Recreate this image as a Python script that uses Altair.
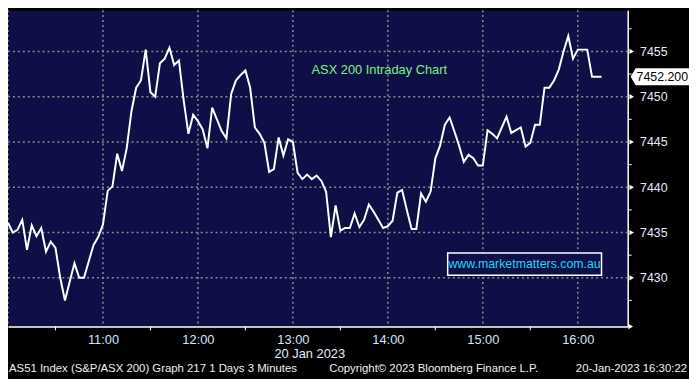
import altair as alt
import pandas as pd

# ---------------- data ----------------
start_hour = 10.0          # first bar 10:00
interval_minutes = 3       # 3-minute bars
prices = [7436.1, 7435.0, 7435.3, 7436.4, 7433.1, 7435.8, 7434.6, 7435.5, 7432.9, 7434.0,
          7433.3, 7430.0, 7427.5, 7429.6, 7431.6, 7430.0, 7430.0, 7431.8, 7433.6, 7434.5,
          7435.9, 7439.6, 7440.1, 7443.7, 7441.8, 7444.3, 7448.4, 7451.0, 7451.8, 7455.2,
          7450.5, 7450.0, 7453.7, 7454.2, 7455.4, 7453.5, 7454.0, 7449.6, 7445.9, 7448.0,
          7447.3, 7446.4, 7444.3, 7448.8, 7447.5, 7446.2, 7445.4, 7450.3, 7451.8, 7452.4,
          7452.9, 7451.0, 7446.6, 7445.9, 7444.9, 7441.7, 7442.0, 7445.5, 7443.5, 7445.3,
          7445.0, 7441.6, 7440.9, 7441.4, 7440.9, 7441.3, 7440.7, 7439.5, 7434.5, 7438.0,
          7435.2, 7435.5, 7435.5, 7437.1, 7435.6, 7436.4, 7438.1, 7437.3, 7436.4, 7435.5,
          7435.7, 7436.3, 7439.4, 7439.7, 7437.5, 7435.4, 7435.4, 7439.3, 7438.4, 7439.5,
          7443.2, 7444.6, 7446.9, 7447.7, 7446.2, 7444.6, 7442.8, 7443.6, 7443.2, 7442.4,
          7442.4, 7446.3, 7445.9, 7445.4, 7446.6, 7447.8, 7446.0, 7446.3, 7446.6, 7444.5,
          7444.9, 7446.9, 7446.9, 7451.0, 7451.0, 7451.8, 7453.0, 7455.0, 7456.7, 7454.2,
          7455.2, 7455.2, 7455.2, 7452.2, 7452.2, 7452.2]
hours = [start_hour + i * interval_minutes / 60 for i in range(len(prices))]

hour_ticks = [10, 11, 12, 13, 14, 15, 16]
half_hour_ticks = [10.5, 11.5, 12.5, 13.5, 14.5, 15.5]
price_ticks = [7430, 7435, 7440, 7445, 7450, 7455]
price_minor_ticks = [7427.5, 7432.5, 7437.5, 7442.5, 7447.5, 7452.5, 7457.5]
last_price = [prices[-1]]
last_label = ["7452.200"]
x_domain = [10.0, 16.526]
y_domain = [7424.63, 7459.56]

title_text = ["ASX 200 Intraday Chart"]
title_pos = [13.91, 7453.0]
web_text = ["www.marketmatters.com.au"]
web_box = [14.63, 16.25, 7430.29, 7432.75]
date_text = ["20 Jan 2023"]
date_pos_hour = [13.55]
footer_left = "AS51 Index (S&P/ASX 200) Graph 217 1 Days 3 Minutes"
footer_mid = "Copyright\u00a9 2023 Bloomberg Finance L.P."
footer_right = "20-Jan-2023 16:30:22"

# ---------------- layout / style ----------------
W, H = 627, 320
NAVY = "#0f0f47"
GRID = "#8c8c8c"
FONT = "Liberation Sans"

xs = alt.Scale(domain=x_domain, nice=False, zero=False)
ys = alt.Scale(domain=y_domain, nice=False, zero=False)

x_axis = alt.Axis(
    values=hour_ticks, title=None,
    labelExpr="datum.value == 10 ? '' : datum.value + ':00'",
    domainColor="white", domainWidth=1.5, ticks=False, grid=False,
    labelColor="#d6e2ff", labelFont=FONT, labelFontSize=13, labelPadding=7,
    labelFlush=False, labelOverlap=False)
y_axis = alt.Axis(
    orient="right", values=price_ticks, title=None, format="d",
    domainColor="white", domainWidth=1.5, ticks=False, grid=False,
    labelColor="#e6e6ff", labelFont=FONT, labelFontSize=12.5, labelPadding=12,
    labelFlush=False, labelOverlap=False)


def X(field):
    return alt.X(field, scale=xs, axis=x_axis)


def Y(field):
    return alt.Y(field, scale=ys, axis=y_axis)


df = pd.DataFrame({"hour": hours, "price": prices})

vgrid = alt.Chart(pd.DataFrame({"hour": hour_ticks})).mark_rule(
    color=GRID, strokeWidth=1.5, strokeDash=[2, 3]
).encode(x=X("hour:Q"))
hgrid = alt.Chart(pd.DataFrame({"price": price_ticks})).mark_rule(
    color=GRID, strokeWidth=1.5, strokeDash=[2, 3]
).encode(y=Y("price:Q"))

line = alt.Chart(df).mark_line(color="white", strokeWidth=2).encode(
    x=X("hour:Q"), y=Y("price:Q"))

major_tri = alt.Chart(pd.DataFrame({"price": price_ticks})).mark_point(
    shape="triangle-right", filled=True, color="white", size=28, opacity=1
).encode(x=alt.value(W + 4), y=Y("price:Q"))

minor_ticks = alt.Chart(pd.DataFrame({"price": price_minor_ticks})).mark_rule(
    color="white", strokeWidth=1
).encode(x=alt.value(W), x2=alt.value(W + 4), y=Y("price:Q"))

half_ticks = alt.Chart(pd.DataFrame({"hour": half_hour_ticks})).mark_rule(
    color="white", strokeWidth=1
).encode(x=X("hour:Q"), y=alt.value(H), y2=alt.value(H + 4))

x_arrow = alt.Chart(pd.DataFrame({"a": [0]})).mark_point(
    shape="triangle-right", filled=True, color="white", size=30, opacity=1
).encode(x=alt.value(W + 3), y=alt.value(H))

last_df = pd.DataFrame({"price": last_price, "t": last_label})
last_box = alt.Chart(last_df).mark_point(
    shape="M -1 0 L -0.83 -0.29 L 1 -0.29 L 1 0.29 L -0.83 0.29 Z",
    filled=True, fill="white", size=3481, opacity=1, strokeWidth=0
).encode(x=alt.value(W + 32.5), y=Y("price:Q"))
last_txt = alt.Chart(last_df).mark_text(
    align="left", baseline="middle", color="black", font=FONT, fontSize=12.5
).encode(x=alt.value(W + 9), y=Y("price:Q"), text="t:N")

title = alt.Chart(pd.DataFrame({"hour": [title_pos[0]], "price": [title_pos[1]], "t": title_text})).mark_text(
    align="center", baseline="middle", color="#7cf07c", font=FONT, fontSize=13
).encode(x=X("hour:Q"), y=Y("price:Q"), text="t:N")

web_df = pd.DataFrame({"hour": [web_box[0]], "hour2": [web_box[1]],
                       "price": [web_box[2]], "price2": [web_box[3]],
                       "t": web_text})
web_rect = alt.Chart(web_df).mark_rect(fill=NAVY, stroke="white", strokeWidth=1.5).encode(
    x=X("hour:Q"), x2="hour2:Q", y=Y("price:Q"), y2="price2:Q")
web_txt_df = pd.DataFrame({"hour": [(web_box[0] + web_box[1]) / 2],
                           "price": [(web_box[2] + web_box[3]) / 2], "t": web_text})
web_txt = alt.Chart(web_txt_df).mark_text(
    align="center", baseline="middle", color="#1ed6f0", font=FONT, fontSize=12.5
).encode(x=X("hour:Q"), y=Y("price:Q"), text="t:N")

date_lbl = alt.Chart(pd.DataFrame({"hour": date_pos_hour, "t": date_text})).mark_text(
    align="right", baseline="middle", color="#e8eeff", font=FONT, fontSize=13
).encode(x=X("hour:Q"), y=alt.value(H + 28), text="t:N")

foot_l = alt.Chart(pd.DataFrame({"t": [footer_left]})).mark_text(
    align="left", baseline="middle", color="#f0f0f0", font=FONT, fontSize=11.5
).encode(x=alt.value(1), y=alt.value(H + 43), text="t:N")
foot_m = alt.Chart(pd.DataFrame({"t": [footer_mid]})).mark_text(
    align="left", baseline="middle", color="#f0f0f0", font=FONT, fontSize=11.5
).encode(x=alt.value(325), y=alt.value(H + 43), text="t:N")
foot_r = alt.Chart(pd.DataFrame({"t": [footer_right]})).mark_text(
    align="right", baseline="middle", color="#f0f0f0", font=FONT, fontSize=11.5
).encode(x=alt.value(W + 60), y=alt.value(H + 43), text="t:N")

chart = alt.layer(
    vgrid, hgrid, line, web_rect, web_txt, title, major_tri, minor_ticks, half_ticks,
    x_arrow, last_box, last_txt, date_lbl, foot_l, foot_m, foot_r
).properties(
    width=W, height=H, background="black",
    padding={"left": 0, "top": 0, "right": 62, "bottom": 51},
    autosize=alt.AutoSizeParams(type="none"),
).configure_view(fill=NAVY, stroke="transparent")

chart.save("out.html", embed_options={"renderer": "svg", "actions": False})
